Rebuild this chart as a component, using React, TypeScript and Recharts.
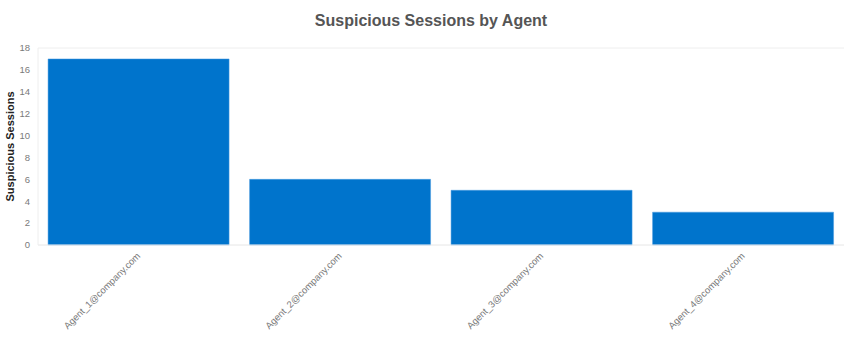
import { BarChart, Bar, XAxis, YAxis, CartesianGrid } from "recharts";

const agents = ["Agent_1@company.com", "Agent_2@company.com", "Agent_3@company.com", "Agent_4@company.com"];
const sessions = [17, 6, 5, 3];
const yTicks = [0, 2, 4, 6, 8, 10, 12, 14, 16, 18];

const data = agents.map((agent, i) => ({ agent, sessions: sessions[i] }));

const tickStyle = { fill: "#7a7a7a", fontSize: 9.5, fontFamily: "Arial, 'Liberation Sans', sans-serif" };

function AngledTick({ x, y, payload }: any) {
  return (
    <text
      x={x}
      y={y}
      transform={`rotate(-45, ${x}, ${y})`}
      textAnchor="end"
      dy={4}
      dx={-1}
      {...tickStyle}
    >
      {payload.value}
    </text>
  );
}

export default function App() {
  return (
    <div style={{ position: "absolute", left: 0, top: 0, width: 854, height: 341, background: "#fff", fontFamily: "Arial, 'Liberation Sans', sans-serif" }}>
      <div style={{ position: "absolute", top: 12, left: 0, width: 862, textAlign: "center", fontSize: 16, fontWeight: "bold", color: "#555" }}>
        Suspicious Sessions by Agent
      </div>
      <BarChart width={854} height={341} data={data} margin={{ top: 48, right: 10, left: 0, bottom: 0 }} barCategoryGap="5%">
        <CartesianGrid vertical={false} stroke="#eee" />
        <XAxis
          dataKey="agent"
          interval={0}
          height={96}
          tick={<AngledTick />}
          tickLine={false}
          axisLine={{ stroke: "#eee" }}
        />
        <YAxis
          yAxisId="left"
          domain={[0, 18]}
          ticks={yTicks}
          width={38}
          tick={tickStyle}
          tickLine={false}
          axisLine={{ stroke: "#eee" }}
          label={{
            value: "Suspicious Sessions",
            angle: -90,
            position: "insideLeft",
            offset: 10,
            style: { textAnchor: "middle", fontSize: 11, fontWeight: "bold", fill: "#222" },
          }}
        />
        <YAxis yAxisId="right" orientation="right" width={0} tick={false} tickLine={false} axisLine={{ stroke: "#eee" }} />
        <Bar yAxisId="left" dataKey="sessions" fill="#0074cc" stroke="#4a9be0" strokeWidth={0.5} isAnimationActive={false} />
      </BarChart>
    </div>
  );
}
